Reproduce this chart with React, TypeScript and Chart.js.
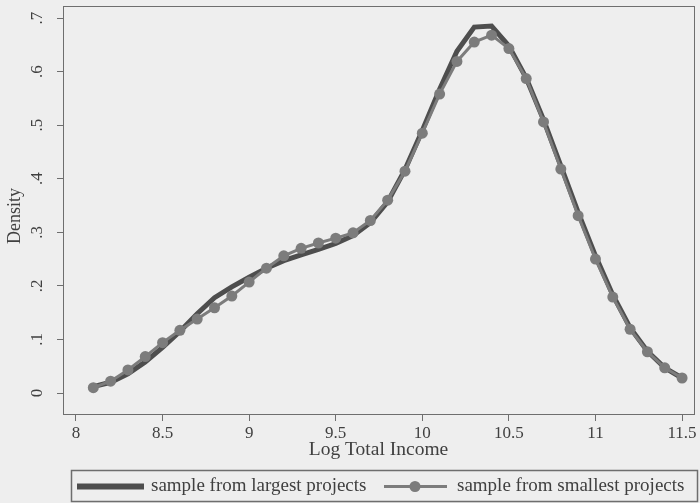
import React, { useEffect, useRef } from "react";
import { Chart, registerables } from "chart.js";

Chart.register(...registerables);

const xValues = [
  8.1, 8.2, 8.3, 8.4, 8.5, 8.6, 8.7, 8.8, 8.9, 9.0, 9.1, 9.2, 9.3, 9.4, 9.5, 9.6, 9.7, 9.8,
  9.9, 10.0, 10.1, 10.2, 10.3, 10.4, 10.5, 10.6, 10.7, 10.8, 10.9, 11.0, 11.1, 11.2, 11.3, 11.4, 11.5,
];
const largestProjects = [
  0.012, 0.02, 0.036, 0.058, 0.085, 0.115, 0.148, 0.178, 0.198, 0.216, 0.233, 0.247, 0.258, 0.268,
  0.279, 0.294, 0.318, 0.357, 0.417, 0.49, 0.567, 0.638, 0.683, 0.685, 0.648, 0.588, 0.51, 0.424,
  0.337, 0.256, 0.183, 0.122, 0.078, 0.047, 0.028,
];
const smallestProjects = [
  0.01, 0.022, 0.043, 0.068, 0.094, 0.117, 0.138, 0.159, 0.181, 0.207, 0.233, 0.256, 0.27, 0.28,
  0.289, 0.299, 0.322, 0.36, 0.414, 0.485, 0.558, 0.619, 0.655, 0.668, 0.643, 0.587, 0.506, 0.418,
  0.331, 0.25, 0.179, 0.119, 0.077, 0.047, 0.028,
];
const xTicks = [8, 8.5, 9, 9.5, 10, 10.5, 11, 11.5];
const yTicks = [0, 0.1, 0.2, 0.3, 0.4, 0.5, 0.6, 0.7];
const xTitle = "Log Total Income";
const yTitle = "Density";
const legendLabels = ["sample from largest projects", "sample from smallest projects"];

const FONT = '"Liberation Serif", "Times New Roman", serif';
const TEXT = "#404040";
const AXIS = "#6e6e6e";
const BG = "#eeeeee";
const DARK = "#4e4e4e";
const MID = "#7c7c7c";

const fmtY = (v: number) => (v === 0 ? "0" : v.toFixed(1).replace(/^0/, ""));

export default function App() {
  const ref = useRef<HTMLCanvasElement | null>(null);

  useEffect(() => {
    if (!ref.current) return;
    const boxPlugin = {
      id: "boxAndBg",
      beforeDraw(chart: any) {
        const { ctx, width, height } = chart;
        ctx.save();
        ctx.fillStyle = BG;
        ctx.fillRect(0, 0, width, height);
        ctx.restore();
      },
      beforeDatasetsDraw(chart: any) {
        const { ctx, chartArea: a } = chart;
        ctx.save();
        ctx.strokeStyle = AXIS;
        ctx.lineWidth = 1;
        ctx.strokeRect(Math.round(a.left) + 0.5, Math.round(a.top) + 0.5, Math.round(a.right - a.left), Math.round(a.bottom - a.top));
        ctx.restore();
      },
      afterDraw(chart: any) {
        const { ctx } = chart;
        const ys = chart.scales.y;
        ctx.save();
        ctx.fillStyle = TEXT;
        ctx.font = `17px ${FONT}`;
        ctx.textAlign = "center";
        ctx.textBaseline = "middle";
        ys.ticks.forEach((t: any) => {
          const py = ys.getPixelForValue(t.value);
          ctx.save();
          ctx.translate(38, py);
          ctx.rotate(-Math.PI / 2);
          ctx.fillText(fmtY(t.value), 0, 0);
          ctx.restore();
        });
        // y title
        ctx.font = `18px ${FONT}`;
        ctx.save();
        ctx.translate(15, 216);
        ctx.rotate(-Math.PI / 2);
        ctx.fillText(yTitle, 0, 0);
        ctx.restore();
        // legend
        const lx = 71, ly = 470, lw = 626, lh = 31;
        ctx.strokeStyle = AXIS;
        ctx.lineWidth = 1.5;
        ctx.strokeRect(lx + 0.5, ly + 0.5, lw, lh);
        const cy = ly + lh / 2 + 1;
        ctx.strokeStyle = DARK;
        ctx.lineWidth = 6;
        ctx.beginPath();
        ctx.moveTo(77, cy);
        ctx.lineTo(144, cy);
        ctx.stroke();
        ctx.strokeStyle = MID;
        ctx.lineWidth = 3;
        ctx.beginPath();
        ctx.moveTo(384, cy);
        ctx.lineTo(447, cy);
        ctx.stroke();
        ctx.fillStyle = MID;
        ctx.beginPath();
        ctx.arc(415, cy, 5.5, 0, Math.PI * 2);
        ctx.fill();
        ctx.fillStyle = TEXT;
        ctx.font = `19px ${FONT}`;
        ctx.textAlign = "left";
        ctx.textBaseline = "middle";
        ctx.fillText(legendLabels[0], 151, cy);
        ctx.fillText(legendLabels[1], 457, cy);
        ctx.restore();
      },
    };

    const chart = new Chart(ref.current, {
      type: "line",
      data: {
        datasets: [
          {
            label: legendLabels[1],
            data: xValues.map((x, i) => ({ x, y: smallestProjects[i] })),
            borderColor: MID,
            backgroundColor: MID,
            borderWidth: 3,
            pointRadius: 5.5,
            pointBackgroundColor: MID,
            pointBorderWidth: 0,
            tension: 0,
            order: 0,
          },
          {
            label: legendLabels[0],
            data: xValues.map((x, i) => ({ x, y: largestProjects[i] })),
            borderColor: DARK,
            backgroundColor: DARK,
            borderWidth: 5,
            pointRadius: 0,
            tension: 0,
            order: 1,
          },
        ],
      },
      options: {
        animation: false,
        responsive: false,
        devicePixelRatio: 1,
        layout: { padding: { left: 0, right: 6, top: 6, bottom: 41 } },
        plugins: { legend: { display: false }, tooltip: { enabled: false } },
        scales: {
          x: {
            type: "linear",
            min: 7.925,
            max: 11.569,
            afterBuildTicks: (s: any) => {
              s.ticks = xTicks.map((v) => ({ value: v }));
            },
            afterFit: (s: any) => {
              s.height = 48;
            },
            border: { display: true, color: AXIS, width: 1 },
            grid: { drawOnChartArea: false, drawTicks: true, tickLength: 7, color: AXIS },
            ticks: {
              color: TEXT,
              font: { family: FONT, size: 17 },
              padding: 2,
              autoSkip: false,
              maxRotation: 0,
              callback: (v: any) => String(v),
            },
            title: {
              display: true,
              text: xTitle,
              color: TEXT,
              font: { family: FONT, size: 19.5 },
              padding: { top: 0, bottom: 0 },
            },
          },
          y: {
            type: "linear",
            min: -0.0392,
            max: 0.7224,
            afterBuildTicks: (s: any) => {
              s.ticks = yTicks.map((v) => ({ value: v }));
            },
            afterFit: (s: any) => {
              s.width = 63;
            },
            border: { display: true, color: AXIS, width: 1 },
            grid: { drawOnChartArea: false, drawTicks: true, tickLength: 6, color: AXIS },
            ticks: { display: false },
            title: { display: false },
          },
        },
      },
      plugins: [boxPlugin],
    } as any);
    return () => chart.destroy();
  }, []);

  return (
    <div style={{ position: "absolute", left: 0, top: 0, width: 700, height: 503, background: BG }}>
      <canvas ref={ref} width={700} height={503} style={{ width: 700, height: 503, display: "block" }} />
    </div>
  );
}
